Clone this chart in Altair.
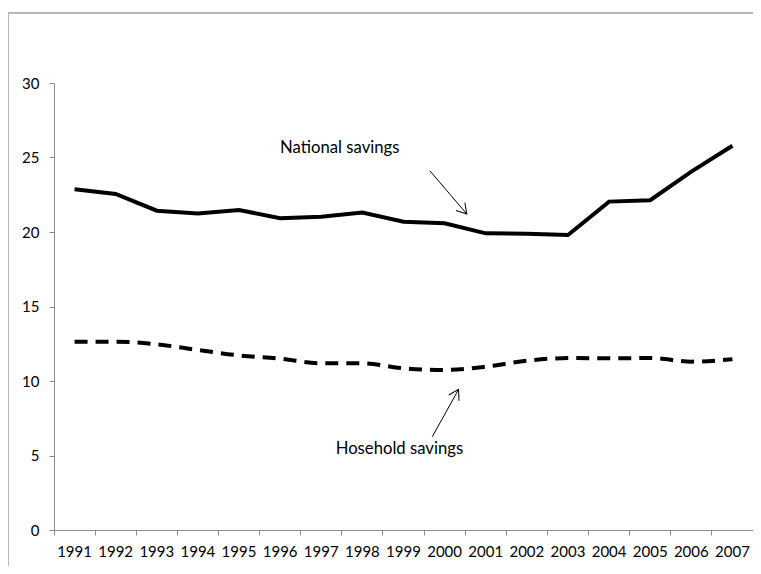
import altair as alt
import pandas as pd

years = [str(y) for y in range(1991, 2008)]
national = [22.87, 22.55, 21.43, 21.25, 21.48, 20.92, 21.03, 21.30, 20.69, 20.58,
            19.91, 19.89, 19.80, 22.04, 22.13, 24.05, 25.79]
household = [12.64, 12.64, 12.46, 12.08, 11.72, 11.50, 11.19, 11.19, 10.85, 10.74,
             10.96, 11.36, 11.54, 11.52, 11.54, 11.30, 11.46]

# annotation positions in data units (x: year axis, y: value axis)
label_text = ["National savings", "Hosehold savings"]
label_x = [1997.45, 1998.9]
label_y = [25.62, 5.44]
arrow_x0 = [1999.64, 1999.70]
arrow_y0 = [24.11, 6.26]
arrow_x1 = [2000.54, 2000.34]
arrow_y1 = [21.21, 9.44]
arrow_angle = [49, 299]

FONT = "Lato"
AX = "#8c8c8c"

df = pd.DataFrame({"year": years, "national": national, "household": household})
ann = pd.DataFrame({"text": label_text, "x": label_x, "y": label_y})
arr = pd.DataFrame({"x0": arrow_x0, "y0": arrow_y0, "x1": arrow_x1, "y1": arrow_y1,
                    "angle": arrow_angle})

yscale = alt.Scale(domain=[0, 30], nice=False)
xq = alt.Scale(domain=[1990.5, 2007.5], nice=False, zero=False)

one = pd.DataFrame({"a": [0]})
frame_left = alt.Chart(one).mark_rule(stroke="#a0a0a0", strokeWidth=1.5).encode(
    x=alt.value(-46), y=alt.value(-70), y2=alt.value(490))
frame_top = alt.Chart(one).mark_rule(stroke="#a0a0a0", strokeWidth=1.5).encode(
    x=alt.value(-46), x2=alt.value(699), y=alt.value(-70))

xenc = alt.X("year:O", bandPosition=0.5,
             scale=alt.Scale(type="band", paddingInner=0, paddingOuter=0),
             axis=alt.Axis(title=None, labelAngle=0, bandPosition=0, domainColor=AX,
                           tickColor=AX, tickSize=5, labelPadding=9, labelFont=FONT,
                           labelFontSize=15, labelColor="#000000", grid=False))

nat = alt.Chart(df).mark_line(color="#000000", strokeWidth=4).encode(
    x=xenc,
    y=alt.Y("national:Q", scale=yscale,
            axis=alt.Axis(title=None, values=[0, 5, 10, 15, 20, 25, 30], grid=False,
                          domainColor=AX, tickColor=AX, tickSize=5, labelPadding=10,
                          labelFont=FONT, labelFontSize=15, labelColor="#000000")),
)
hh = alt.Chart(df).mark_line(color="#000000", strokeWidth=4, strokeDash=[13, 8],
                             interpolate="monotone").encode(
    x=alt.X("year:O", bandPosition=0.5),
    y=alt.Y("household:Q", scale=yscale)
)

txt = alt.Chart(ann).mark_text(font=FONT, fontSize=16.7, color="#000000").encode(
    x=alt.X("x:Q", scale=xq, axis=None), y=alt.Y("y:Q", scale=yscale),
    text="text:N"
)
arrows = alt.Chart(arr).mark_rule(color="#000000", strokeWidth=1).encode(
    x=alt.X("x0:Q", scale=xq, axis=None), y=alt.Y("y0:Q", scale=yscale),
    x2="x1:Q", y2="y1:Q"
)
heads = alt.Chart(arr).mark_point(
    shape="M -1 -0.6 L 0 0 L -1 0.6", filled=False, color="#000000",
    strokeWidth=1, size=380, opacity=1
).encode(
    x=alt.X("x1:Q", scale=xq, axis=None), y=alt.Y("y1:Q", scale=yscale),
    angle=alt.Angle("angle:Q", scale=None)
)

base = alt.layer(nat, hh)
ann_layer = alt.layer(frame_left, frame_top, txt, arrows, heads)

chart = alt.layer(base, ann_layer).resolve_scale(x="independent").properties(
    width=699, height=447,
    autosize=alt.AutoSizeParams(type="none"),
    padding={"left": 46, "top": 75, "right": 0, "bottom": 36},
    view=alt.ViewBackground(stroke="transparent", strokeWidth=0),
).configure_view(stroke="transparent", strokeWidth=0).configure(background="#ffffff")

chart.save("out.html", embed_options={"renderer": "svg", "actions": False})
